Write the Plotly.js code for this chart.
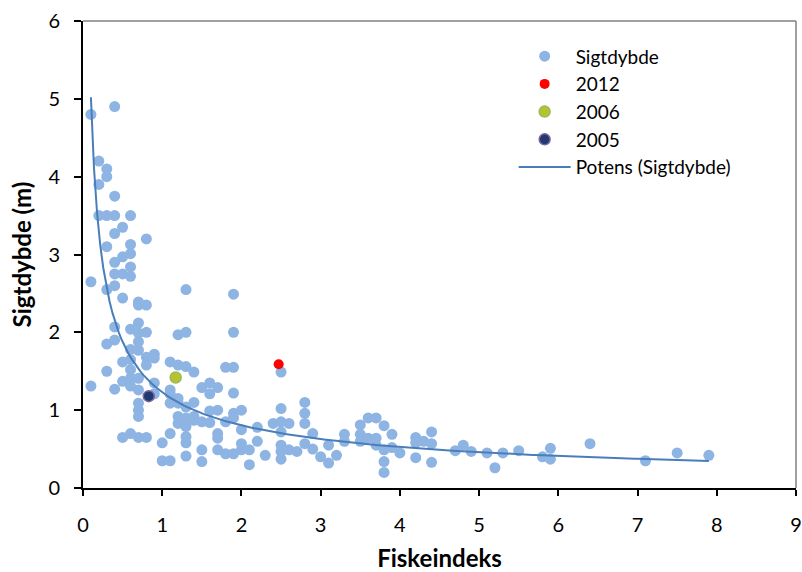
<!DOCTYPE html>
<html><head><meta charset="utf-8">
<script src="https://cdn.plot.ly/plotly-3.0.1.min.js"></script>
<style>html,body{margin:0;padding:0;background:#fff}#c{width:802px;height:572px}</style>
</head><body><div id="c"></div>
<script>
// Sigtdybde series (Fiskeindeks, Sigtdybde m)
const fiskX = [
0.1,0.1,0.1,
0.2,0.2,0.2,
0.3,0.3,0.3,0.3,0.3,0.3,0.3,
0.4,0.4,0.4,0.4,0.4,0.4,0.4,0.4,0.4,0.4,
0.5,0.5,0.5,0.5,0.5,0.5,0.5,
0.6,0.6,0.6,0.6,0.6,0.6,0.6,0.6,0.6,0.6,0.6,0.6,
0.7,0.7,0.7,0.7,0.7,0.7,0.7,0.7,0.7,0.7,0.7,0.7,
0.8,0.8,0.8,0.8,0.8,0.8,
0.9,0.9,0.9,0.9,
1.0,1.0,
1.1,1.1,1.1,1.1,1.1,1.1,
1.2,1.2,1.2,1.2,1.2,1.2,
1.3,1.3,1.3,1.3,1.3,1.3,1.3,1.3,1.3,
1.4,1.4,1.4,1.4,
1.5,1.5,1.5,1.5,
1.6,1.6,1.6,1.6,
1.7,1.7,1.7,1.7,1.7,
1.8,1.8,1.8,
1.9,1.9,1.9,1.9,1.9,1.9,1.9,
2.0,2.0,2.0,2.0,
2.1,2.1,
2.2,2.2,
2.3,
2.4,
2.5,2.5,2.5,2.5,2.5,2.5,2.5,
2.6,2.6,
2.7,
2.8,2.8,2.8,2.8,
2.9,2.9,
3.0,
3.1,3.1,
3.2,
3.3,3.3,
3.5,3.5,3.5,
3.6,3.6,
3.7,3.7,3.7,
3.8,3.8,3.8,3.8,
3.9,3.9,
4.0,
4.2,4.2,4.2,
4.3,
4.4,4.4,4.4,
4.7,4.8,4.9,5.1,5.2,5.3,5.5,5.8,5.9,5.9,6.4,7.1,7.5,7.9
];
const sigtY = [
4.80,2.65,1.31,
4.20,3.90,3.50,
4.10,4.00,3.50,3.10,2.55,1.85,1.50,
4.90,3.75,3.50,3.27,2.90,2.75,2.60,2.07,1.90,1.27,
3.35,2.97,2.75,2.44,1.62,1.37,0.65,
3.50,3.13,3.01,2.84,2.72,2.04,1.78,1.65,1.52,1.41,1.31,0.70,
2.39,2.35,2.12,1.99,1.88,1.77,1.41,1.26,1.09,1.00,0.92,0.65,
3.20,2.35,2.00,1.68,1.58,0.65,
1.72,1.67,1.35,1.21,
0.58,0.35,
1.62,1.26,1.21,1.09,0.70,0.35,
1.97,1.58,1.15,1.09,0.92,0.83,
2.55,2.00,1.56,1.04,0.90,0.79,0.66,0.58,0.41,
1.49,1.10,0.92,0.87,
1.29,0.85,0.49,0.34,
1.35,1.21,0.99,0.84,
1.29,1.00,0.70,0.64,0.49,
1.55,0.85,0.44,
2.49,2.00,1.55,1.22,0.96,0.90,0.44,
1.00,0.75,0.57,0.49,
0.49,0.30,
0.78,0.60,
0.42,
0.83,
1.49,1.02,0.85,0.72,0.55,0.47,0.37,
0.83,0.49,
0.47,
1.10,0.96,0.83,0.57,
0.70,0.50,
0.40,
0.55,0.32,
0.42,
0.69,0.60,
0.81,0.69,0.60,
0.90,0.64,
0.90,0.64,0.55,
0.80,0.49,0.34,0.20,
0.69,0.52,
0.45,
0.65,0.58,0.39,
0.60,
0.72,0.57,0.33,
0.48,0.55,0.47,0.45,0.26,0.45,0.48,0.40,0.51,0.37,0.57,0.35,0.45,0.42
];
const x2012 = [2.47], y2012 = [1.59];
const x2006 = [1.17], y2006 = [1.42];
const x2005 = [0.83], y2005 = [1.18];

const xTicks = [0,1,2,3,4,5,6,7,8,9];
const yTicks = [0,1,2,3,4,5,6];

// Power trendline (least squares in log-log space, like Excel "Potens")
function powerFit(xs, ys){
  let n=0,sx=0,sy=0,sxx=0,sxy=0;
  for(let i=0;i<xs.length;i++){
    const lx=Math.log(xs[i]), ly=Math.log(ys[i]);
    n++; sx+=lx; sy+=ly; sxx+=lx*lx; sxy+=lx*ly;
  }
  const b=(n*sxy-sx*sy)/(n*sxx-sx*sx);
  const a=Math.exp((sy-b*sx)/n);
  return {a,b};
}
const fit = powerFit(fiskX, sigtY);
const xmin = Math.min(...fiskX), xmax = Math.max(...fiskX);
const trendX = [], trendY = [];
for(let i=0;i<=200;i++){
  const xv = xmin + (xmax-xmin)*i/200;
  trendX.push(xv); trendY.push(fit.a*Math.pow(xv, fit.b));
}

const FONT = 'Lato, "Liberation Sans", sans-serif';
const traces = [
  {x: fiskX, y: sigtY, type:'scatter', mode:'markers', name:'Sigtdybde',
   marker:{color:'#8db4e2', size:11, line:{width:0}}},
  {x: x2012, y: y2012, type:'scatter', mode:'markers', name:'2012',
   marker:{color:'#ff0000', size:10, line:{width:0}}},
  {x: x2006, y: y2006, type:'scatter', mode:'markers', name:'2006',
   marker:{color:'#b8c22e', size:11, line:{width:1.5, color:'#9bbb59'}}},
  {x: x2005, y: y2005, type:'scatter', mode:'markers', name:'2005',
   marker:{color:'#1f3a70', size:11, line:{width:1.5, color:'#8064a2'}}},
  {x: trendX, y: trendY, type:'scatter', mode:'lines', name:'Potens (Sigtdybde)',
   line:{color:'#4a7ebb', width:2}}
];

const layout = {
  width:802, height:572,
  margin:{l:83, r:6, t:21, b:84},
  paper_bgcolor:'#fff', plot_bgcolor:'#fff',
  font:{family:FONT, color:'#000', size:20},
  showlegend:true,
  legend:{x:0.604, y:0.965, xanchor:'left', yanchor:'top', bgcolor:'rgba(0,0,0,0)',
          font:{family:FONT, size:19, color:'#000'}, itemwidth:52, tracegroupgap:0},
  xaxis:{range:[0,9], tickvals:xTicks, ticktext:xTicks.map(String), showgrid:false, zeroline:false,
         showline:true, linecolor:'#000', linewidth:2, ticks:'outside', ticklen:6, tickwidth:2, tickcolor:'#000',
         ticklabelstandoff:12, tickfont:{family:FONT, size:20},
         title:{text:'<b>Fiskeindeks</b>', font:{family:FONT, size:24}, standoff:16}},
  yaxis:{range:[0,6], tickvals:yTicks, ticktext:yTicks.map(String), showgrid:false, zeroline:false,
         showline:true, linecolor:'#000', linewidth:2, ticks:'outside', ticklen:7, tickwidth:2, tickcolor:'#000',
         ticklabelstandoff:10, tickfont:{family:FONT, size:20},
         title:{text:'<b>Sigtdybde (m)</b>', font:{family:FONT, size:24}, standoff:10}},
  shapes:[
    {type:'line', xref:'paper', yref:'paper', x0:0, x1:1, y0:1, y1:1, line:{color:'#808080', width:1.5}},
    {type:'line', xref:'paper', yref:'paper', x0:1, x1:1, y0:0, y1:1, line:{color:'#808080', width:1.5}}
  ]
};
Plotly.newPlot('c', traces, layout, {displayModeBar:false, staticPlot:true});
</script>
</body></html>
